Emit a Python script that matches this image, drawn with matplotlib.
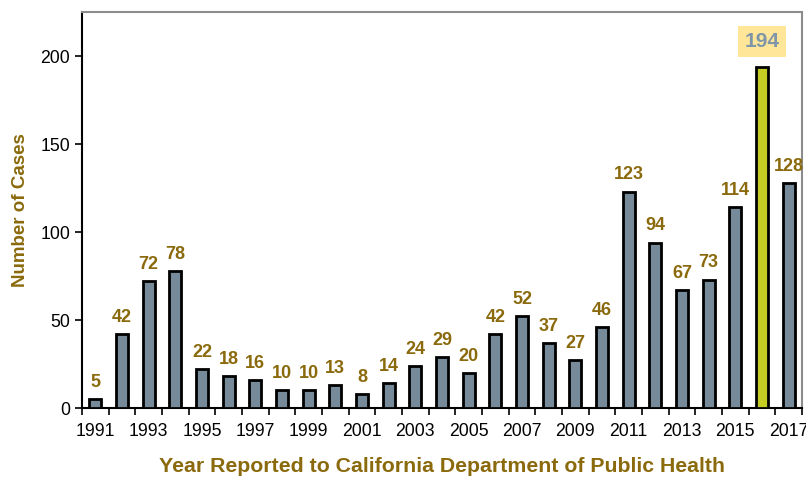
import numpy as np
import matplotlib
matplotlib.use("Agg")
import matplotlib.pyplot as plt

plt.rcParams['font.family'] = ['Liberation Sans', 'DejaVu Sans']

# data
years = list(range(1991, 2018))
cases = [5, 42, 72, 78, 22, 18, 16, 10, 10, 13, 8, 14, 24, 29, 20,
         42, 52, 37, 27, 46, 123, 94, 67, 73, 114, 194, 128]
highlight_year = 2016

BAR = '#768a9a'
HILITE = '#c5cc24'
GOLD = '#8a6a0c'

fig = plt.figure(figsize=(8.06, 4.78), dpi=100)
ax = fig.add_axes([0.1017, 0.1464, 0.8933, 0.8285])

x = np.arange(len(years))
colors = [HILITE if y == highlight_year else BAR for y in years]
ax.bar(x, cases, width=0.46, color=colors, edgecolor='black', linewidth=2, zorder=3)

for xi, yr, v in zip(x, years, cases):
    if yr == highlight_year:
        ax.annotate(str(v), (xi, v), xytext=(0, 18), textcoords='offset points',
                    ha='center', va='center', fontsize=15, fontweight='bold',
                    color='#7f96a8',
                    bbox=dict(boxstyle='square,pad=0.3', facecolor='#ffe699', edgecolor='none'))
    else:
        ax.annotate(str(v), (xi, v), xytext=(0, 12), textcoords='offset points',
                    ha='center', va='center', fontsize=13, fontweight='bold', color=GOLD)

ax.set_xlim(-0.5, len(years) - 0.5)
ax.set_ylim(0, 225)
ax.set_yticks([0, 50, 100, 150, 200])

ax.set_xticks(x[::2])
ax.set_xticklabels([str(y) for y in years[::2]])
ax.set_xticks(np.arange(-0.5, len(years)), minor=True)
ax.tick_params(axis='x', which='major', length=0, labelsize=12.7, pad=11)
ax.tick_params(axis='x', which='minor', length=5, width=1.2, direction='out')
ax.tick_params(axis='y', labelsize=12.7, length=5, width=1.2, direction='out')

for side in ['left', 'bottom']:
    ax.spines[side].set_color('black')
    ax.spines[side].set_linewidth(1.5)
for side in ['top', 'right']:
    ax.spines[side].set_color('#8c8c8c')
    ax.spines[side].set_linewidth(1.5)

ax.set_ylabel('Number of Cases', fontsize=13.5, fontweight='bold', color=GOLD, labelpad=8)
ax.set_xlabel('Year Reported to California Department of Public Health',
              fontsize=15.3, fontweight='bold', color=GOLD, labelpad=12)

fig.savefig('out.png', dpi=100)
